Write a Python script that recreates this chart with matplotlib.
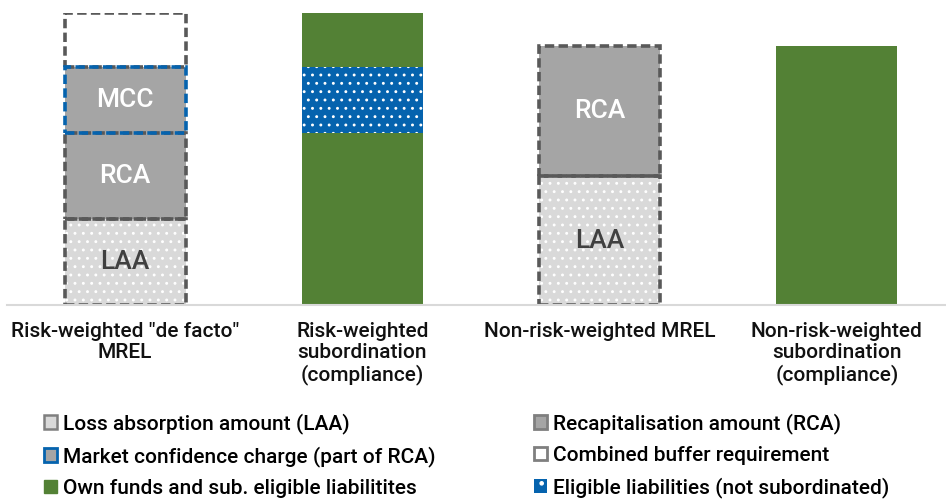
import matplotlib
matplotlib.use("Agg")
import matplotlib.pyplot as plt
from matplotlib.patches import Patch
import numpy as np

plt.rcParams['font.family'] = ['Roboto', 'DejaVu Sans']
plt.rcParams['hatch.linewidth'] = 0.9

# ---------------- data ----------------
categories = ['Risk-weighted "de facto"\nMREL',
              'Risk-weighted\nsubordination\n(compliance)',
              'Non-risk-weighted MREL',
              'Non-risk-weighted\nsubordination\n(compliance)']
# requirement stacks (bars 1 and 3)
laa = [8.6, 0, 12.9, 0]
rca = [8.6, 0, 13.0, 0]
mcc = [6.6, 0, 0, 0]
cbr = [5.4, 0, 0, 0]
# compliance stacks (bars 2 and 4)
own_funds_low = [0, 17.2, 0, 25.9]
eligible_liab = [0, 6.6, 0, 0]
own_funds_top = [0, 5.4, 0, 0]

legend_labels = ['Loss absorption amount (LAA)',
                 'Market confidence charge (part of RCA)',
                 'Own funds and sub. eligible liabilitites',
                 'Recapitalisation amount (RCA)',
                 'Combined buffer requirement',
                 'Eligible liabilities (not subordinated)']

# ---------------- style ----------------
C_LAA = '#D9D9D9'
C_RCA = '#A5A5A5'
C_EDGE = '#595959'
C_BLUE = '#0563AE'
C_GREEN = '#538135'
DASH = (0, (2.6, 1.2))
LW = 2.6

fig = plt.figure(figsize=(9.46, 5.01), dpi=100)
W, H = 946, 501
ax = fig.add_axes([7 / W, 1 - 305 / H, (945 - 7) / W, (305 - 13) / H])

x = np.arange(len(categories))
width = 0.51


def seg(vals, bottom, **kw):
    vals = np.asarray(vals, float)
    m = vals > 0
    if m.any():
        ax.bar(x[m], vals[m], width, bottom=np.asarray(bottom)[m], **kw)
    return np.asarray(bottom) + vals


def outline(vals, bottom, color):
    vals = np.asarray(vals, float)
    m = vals > 0
    if m.any():
        ax.bar(x[m], vals[m], width, bottom=np.asarray(bottom)[m], fill=False,
               edgecolor=color, linestyle=DASH, linewidth=LW)


b0 = np.zeros(len(x))
b1 = seg(laa, b0, color=C_LAA, edgecolor='white', hatch='..', linewidth=0)
b2 = seg(rca, b1, color=C_RCA, linewidth=0)
b3 = seg(mcc, b2, color=C_RCA, linewidth=0)
b4 = seg(cbr, b3, color='white', linewidth=0)
outline(laa, b0, C_EDGE)
outline(rca, b1, C_EDGE)
outline(cbr, b3, C_EDGE)
outline(mcc, b2, C_BLUE)

c1 = seg(own_funds_low, b0, color=C_GREEN, linewidth=0)
c2 = seg(eligible_liab, c1, color=C_BLUE, edgecolor='white', hatch='..', linewidth=0)
c3 = seg(own_funds_top, c2, color=C_GREEN, linewidth=0)

# segment labels
lab_kw = dict(ha='center', va='center', fontsize=19, fontweight='medium')
for i in range(len(x)):
    if laa[i] > 0:
        ax.text(x[i], b0[i] + laa[i] / 2, 'LAA', color='#404040', **lab_kw)
    if rca[i] > 0:
        ax.text(x[i], b1[i] + rca[i] / 2, 'RCA', color='white', **lab_kw)
    if mcc[i] > 0:
        ax.text(x[i], b2[i] + mcc[i] / 2, 'MCC', color='white', **lab_kw)

ax.set_xlim(-118 / 237, 3 + 108 / 237)
ax.set_ylim(0, 29.2)
ax.set_yticks([])
ax.set_xticks(x)
ax.set_xticklabels(categories, fontsize=15, fontweight='medium', color='#111111',
                   linespacing=1.13)
ax.tick_params(axis='x', length=0, pad=12)
for s in ['top', 'left', 'right']:
    ax.spines[s].set_visible(False)
ax.spines['bottom'].set_color('#D9D9D9')
ax.spines['bottom'].set_linewidth(1.5)
ax.patch.set_alpha(0)

# legend
h_laa = Patch(facecolor=C_LAA, edgecolor='#7F7F7F', linewidth=1.8)
h_mcc = Patch(facecolor=C_RCA, edgecolor=C_BLUE, linewidth=2)
h_own = Patch(facecolor=C_GREEN, edgecolor=C_GREEN)
h_rca = Patch(facecolor=C_RCA, edgecolor='#7F7F7F', linewidth=2)
h_cbr = Patch(facecolor='white', edgecolor='#7F7F7F', linewidth=2)
h_el = Patch(facecolor=C_BLUE, edgecolor='white', hatch='.', linewidth=0)

lkw = dict(frameon=False, handlelength=0.62, handleheight=0.62,
           handletextpad=0.3, labelspacing=0.58, borderpad=0, borderaxespad=0,
           prop={'weight': 'medium', 'size': 15})
fig.legend([h_laa, h_mcc, h_own], legend_labels[:3], loc='upper left',
           bbox_to_anchor=(44 / W, 1 - 413 / H), **lkw)
fig.legend([h_rca, h_cbr, h_el], legend_labels[3:], loc='upper left',
           bbox_to_anchor=(534 / W, 1 - 413 / H), **lkw)

fig.savefig('out.png', dpi=100)
